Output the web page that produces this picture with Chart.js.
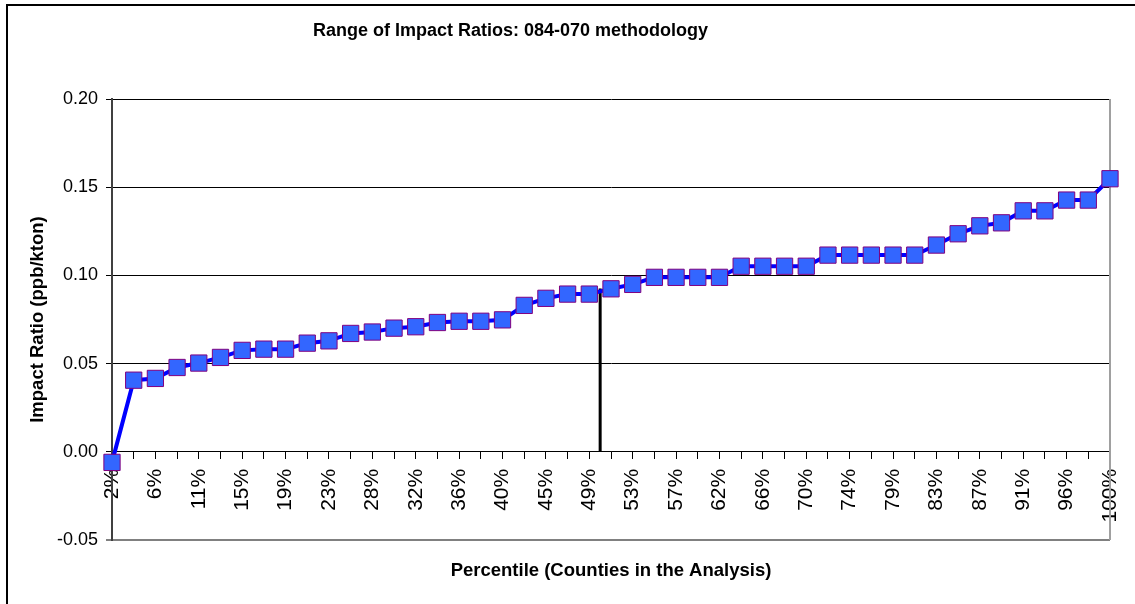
<!DOCTYPE html>
<html>
<head>
<meta charset="utf-8">
<script src="https://cdn.jsdelivr.net/npm/chart.js@4/dist/chart.umd.min.js"></script>
<style>
  html, body { margin: 0; padding: 0; background: #fff; }
  #wrap { position: relative; width: 1135px; height: 604px; }
  #frame { position: absolute; left: 6px; top: 4px; right: 0; bottom: 0; border-top: 2px solid #000; border-left: 2px solid #000; pointer-events: none; }
  canvas { position: absolute; left: 0; top: 0; }
</style>
</head>
<body>
<div id="wrap">
  <canvas id="c" width="1135" height="604"></canvas>
  <div id="frame"></div>
</div>
<script>
// Category labels (percentile of counties)
const categories = ["2%","4%","6%","9%","11%","13%","15%","17%","19%","21%","23%","26%","28%","30%","32%","34%","36%","38%","40%","43%","45%","47%","49%","51%","53%","55%","57%","60%","62%","64%","66%","68%","70%","72%","74%","77%","79%","81%","83%","85%","87%","89%","91%","94%","96%","98%","100%"];
// Impact ratio values (ppb/kton)
const impactRatios = [-0.006,0.0406,0.0416,0.0478,0.0503,0.0535,0.0575,0.0582,0.0582,0.0616,0.0629,0.0671,0.0679,0.0701,0.0709,0.0733,0.0740,0.0740,0.0748,0.0830,0.0870,0.0894,0.0894,0.0924,0.0949,0.0989,0.0989,0.0989,0.0989,0.1052,0.1052,0.1052,0.1052,0.1115,0.1115,0.1115,0.1115,0.1115,0.1172,0.1236,0.1281,0.1298,0.1366,0.1366,0.1427,0.1427,0.1548];
// Median marker (50th percentile)
const medianPercentile = [50, 50];
const medianValues = [0, 0.0926];
// Y tick values
const yTicks = [-0.05, 0, 0.05, 0.10, 0.15, 0.20];

const TITLE_TEXT = 'Range of Impact Ratios: 084-070 methodology';
const XTITLE_TEXT = 'Percentile (Counties in the Analysis)';

const pctMin = 100 / categories.length;
const pctMax = 100;

const decorations = {
  id: 'decorations',
  afterLayout(chart) {
    const a = chart.chartArea;
    chart.boxes.forEach(b => {
      if (!b.options || b.options.text === undefined) return;
      if (b.options.text === XTITLE_TEXT) {
        b.left = a.left; b.right = a.right; b.width = a.right - a.left;
      } else if (b.options.text === TITLE_TEXT) {
        b.left = 0; b.right = 1021; b.width = 1021;
      }
    });
  },
  beforeDatasetsDraw(chart) {
    const a = chart.chartArea, ctx = chart.ctx;
    ctx.save();
    ctx.strokeStyle = '#a0a0a0';
    ctx.lineWidth = 2;
    ctx.beginPath();
    ctx.moveTo(a.right, a.top);
    ctx.lineTo(a.right, a.bottom);
    ctx.stroke();
    ctx.restore();
  }
};

new Chart(document.getElementById('c'), {
  type: 'line',
  data: {
    labels: categories,
    datasets: [
      {
        data: impactRatios,
        xAxisID: 'x',
        yAxisID: 'y',
        borderColor: '#0000ff',
        borderWidth: 4,
        pointStyle: 'rect',
        pointRadius: 11.5,
        pointBorderWidth: 1,
        pointBackgroundColor: '#3366ff',
        pointBorderColor: '#800080',
        tension: 0,
        clip: false,
        order: 1
      },
      {
        data: medianPercentile.map((p, i) => ({ x: p, y: medianValues[i] })),
        xAxisID: 'pct',
        yAxisID: 'y',
        borderColor: '#000000',
        borderWidth: 3,
        pointRadius: 0,
        order: 2
      }
    ]
  },
  options: {
    responsive: false,
    animation: false,
    layout: { padding: { left: 0, right: 25, top: 0, bottom: 0 } },
    plugins: {
      legend: { display: false },
      tooltip: { enabled: false },
      title: {
        display: true,
        text: TITLE_TEXT,
        color: '#000',
        font: { family: 'Liberation Sans, Arial, sans-serif', size: 18, weight: 'bold', lineHeight: 1.2 },
        padding: { top: 20, bottom: 57.4 }
      },
      subtitle: {
        display: true,
        position: 'bottom',
        text: XTITLE_TEXT,
        color: '#000',
        font: { family: 'Liberation Sans, Arial, sans-serif', size: 18.5, weight: 'bold', lineHeight: 1.2 },
        padding: { top: 20, bottom: 21.8 }
      }
    },
    scales: {
      x: {
        type: 'category',
        position: { y: 0 },
        offset: false,
        afterFit: s => { s.paddingLeft = 0; s.paddingRight = 0; },
        border: { display: true, color: '#000', width: 1 },
        grid: { drawOnChartArea: false, drawTicks: true, tickLength: 7, color: '#000' },
        ticks: {
          autoSkip: false,
          minRotation: 90,
          maxRotation: 90,
          padding: 10,
          color: '#000',
          font: { family: 'Liberation Sans, Arial, sans-serif', size: 21 },
          callback: function (v, i) { return i % 2 === 0 ? categories[i] : ''; }
        }
      },
      pct: {
        type: 'linear',
        display: false,
        min: pctMin,
        max: pctMax
      },
      y: {
        type: 'linear',
        position: 'left',
        min: -0.05,
        max: 0.20,
        afterBuildTicks: s => { s.ticks = yTicks.map(v => ({ value: v })); },
        afterFit: s => { s.width = 112; },
        border: { display: true, color: '#404040', width: 2 },
        grid: {
          drawTicks: true,
          tickLength: 6,
          color: ctx => (ctx.tick && Math.abs(ctx.tick.value + 0.05) < 1e-9) ? '#808080' : '#000',
          lineWidth: ctx => (ctx.tick && Math.abs(ctx.tick.value + 0.05) < 1e-9) ? 2 : 1
        },
        ticks: {
          padding: 8,
          color: '#000',
          font: { family: 'Liberation Sans, Arial, sans-serif', size: 18 },
          callback: v => v.toFixed(2)
        },
        title: {
          display: true,
          text: 'Impact Ratio (ppb/kton)',
          color: '#000',
          font: { family: 'Liberation Sans, Arial, sans-serif', size: 18.5, weight: 'bold', lineHeight: 1.2 },
          padding: { top: 27, bottom: 0 }
        }
      }
    }
  },
  plugins: [decorations]
});
</script>
</body>
</html>
